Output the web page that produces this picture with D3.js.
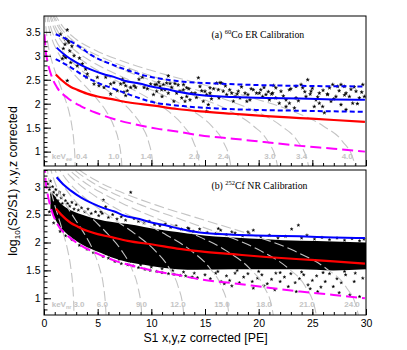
<!DOCTYPE html>
<html><head><meta charset="utf-8">
<script src="https://cdn.jsdelivr.net/npm/d3@7"></script>
<style>body{margin:0;background:#fff}svg{display:block}</style>
</head><body>
<script>
// ---------------- DATA ----------------
const xTickValues = [0, 5, 10, 15, 20, 25, 30];
const yTickValuesTop = [1, 1.5, 2, 2.5, 3, 3.5];
const yTickValuesBottom = [1, 1.5, 2, 2.5, 3];

// ER band (60Co): median and +-boundaries  [S1, log10(S2/S1)]
const erMedian = [[1.18,3.17],[1.86,3.03],[2.5,2.93],[3.5,2.8],[4.5,2.7],[5.5,2.62],[6.5,2.56],[7.5,2.48],[8.9,2.42],[10,2.36],[11.5,2.3],[12.5,2.25],[14.5,2.18],[17.6,2.14],[20.7,2.12],[23.85,2.11],[27,2.09],[29.9,2.08]];
const erUpper = [[1.09,3.45],[2.49,3.3],[3.42,3.17],[4.66,2.98],[6.21,2.83],[7.76,2.7],[9.7,2.57],[11.5,2.5],[13,2.46],[16.1,2.42],[19.8,2.39],[24.7,2.37],[29.9,2.36]];
const erLower = [[1.09,2.93],[2.49,2.76],[3.73,2.58],[4.97,2.44],[6.52,2.31],[8.08,2.18],[9.8,2.05],[12.98,1.95],[16.1,1.9],[19.8,1.87],[24.7,1.85],[29.9,1.83]];
// NR band (252Cf): median and lower boundary
const nrMedian = [[1.1,2.61],[1.6,2.5],[2.5,2.35],[3.1,2.29],[4.0,2.21],[5.0,2.15],[6.2,2.1],[7.8,2.03],[10.25,1.96],[12.4,1.89],[14.6,1.84],[17.6,1.79],[20.7,1.74],[23.85,1.7],[27,1.66],[29.9,1.62]];
const nrLower = [[0.05,3.45],[0.15,3.12],[0.31,2.9],[0.7,2.58],[1.24,2.33],[2.2,2.12],[3.42,1.95],[4.97,1.8],[6.5,1.68],[8.5,1.57],[10.5,1.48],[12.4,1.42],[14.5,1.34],[17.6,1.27],[20.5,1.2],[23.85,1.12],[27,1.06],[29.9,1.0]];

// energy contours: shared log10(S2/S1) profile, S1 points per contour
const contourValues = [3.91,3.60,3.35,3.12,2.88,2.67,2.40,2.13,1.85,1.53,1.21,0.81,0.40];
const contourS1Top = [
 [0.09,0.18,0.30,0.47,0.74,1.04,1.48,1.92,2.31,2.60,2.78,2.89,2.93],
 [0.22,0.44,0.74,1.18,1.85,2.59,3.70,4.81,5.77,6.51,6.96,7.22,7.33],
 [0.31,0.62,1.04,1.66,2.59,3.63,5.18,6.73,8.08,9.12,9.74,10.10,10.26],
 [0.44,0.89,1.48,2.37,3.70,5.18,7.40,9.62,11.54,13.02,13.91,14.43,14.65],
 [0.53,1.07,1.78,2.84,4.44,6.22,8.88,11.54,13.85,15.63,16.69,17.32,17.58],
 [0.67,1.33,2.22,3.55,5.55,7.77,11.10,14.43,17.32,19.54,20.87,21.65,21.98],
 [0.75,1.51,2.52,4.03,6.29,8.81,12.58,16.35,19.62,22.14,23.65,24.53,24.91],
 [0.89,1.78,2.96,4.74,7.40,10.36,14.80,19.24,23.09,26.05,27.82,28.86,29.30]
];
const contourS1Bottom = [
 [0.09,0.17,0.29,0.46,0.71,1.00,1.43,1.85,2.22,2.51,2.68,2.78,2.82],
 [0.18,0.35,0.59,0.94,1.48,2.07,2.95,3.84,4.60,5.19,5.55,5.75,5.84],
 [0.28,0.56,0.93,1.49,2.33,3.26,4.65,6.05,7.25,8.18,8.74,9.07,9.21],
 [0.40,0.80,1.33,2.13,3.33,4.66,6.65,8.65,10.37,11.70,12.50,12.97,13.17],
 [0.53,1.06,1.76,2.82,4.40,6.16,8.80,11.44,13.73,15.49,16.54,17.16,17.42],
 [0.65,1.31,2.18,3.49,5.45,7.63,10.90,14.17,17.00,19.18,20.49,21.26,21.58],
 [0.78,1.55,2.59,4.14,6.48,9.07,12.95,16.84,20.20,22.79,24.35,25.25,25.64],
 [0.90,1.79,2.99,4.78,7.48,10.47,14.95,19.44,23.32,26.31,28.11,29.15,29.60]
];
const keVeeLabels = ["0.4","1.0","1.4","2.0","2.4","3.0","3.4","4.0"];
const keVeeLabelS1 = [3.5,6.5,9.5,14.0,16.7,21.05,24.0,28.25];
const keVnrLabels = ["3.0","6.0","9.0","12.0","15.0","18.0","21.0","24.0"];
const keVnrLabelS1 = [3.26,5.43,9.08,12.48,16.58,20.5,24.5,28.7];

// 60Co events [S1, log10(S2/S1)]
const coEvents = [
 [2.17,3.54],[1.55,3.45],[2.02,3.35],[2.24,3.31],[2.33,3.28],[1.96,3.24],[1.86,3.0],[2.02,2.96],[1.71,2.94],[2.49,2.86],
 [3.1,2.79],[3.57,2.83],[3.88,2.72],[4.04,2.62],[3.97,2.55],[2.17,2.48],[4.97,2.55],[5.75,2.55],[4.66,2.41],[5.12,2.375],
 [5.59,2.34],[6.21,2.41],[6.52,2.44],[7.3,2.51],[7.45,2.44],[7.14,2.41],[7.61,2.375],[7.76,2.27],[7.45,2.24],[7.61,2.17],
 [7.92,2.69],[8.08,2.34],[8.39,2.375],[8.54,2.34],[8.85,2.51],[9.16,2.55],[9.32,2.34],[9.63,2.31],[9.94,2.41],[6.21,2.20],
 [6.83,2.27],[2.4,3.1],[2.6,3.2],[1.8,3.15],[2.8,3.0],[3.3,2.95],
 [11.58,2.58],[10.34,2.40],[10.81,2.36],[11.12,2.40],[11.43,2.43],[11.74,2.42],[12.2,2.42],[11.27,2.29],[10.5,2.26],[11.58,2.22],
 [12.36,2.22],[12.67,2.26],[13.3,2.15],[13.6,2.08],[13.76,2.22],[12.98,2.29],[14.38,2.54],[14.53,2.36],[15.0,2.26],[15.16,2.19],
 [15.47,2.33],[14.84,2.05],[15.16,1.84],[15.31,1.98],[16.09,2.43],[16.4,2.44],[16.55,2.43],[16.24,2.29],[16.7,2.26],[17.02,2.19],
 [17.49,2.22],[17.8,2.15],[18.1,2.26],[18.26,2.12],[18.73,2.22],[19.0,2.19],[19.19,2.08],[19.5,2.29],[19.8,2.22],[17.64,2.05],
 [15.47,2.22],[14.07,2.22],[13.3,2.33],[12.83,2.12],[13.14,2.05],[10.5,2.40],[10.96,2.29],
 [24.57,2.50],[23.95,2.40],[23.48,2.36],[24.1,2.33],[22.86,2.29],[22.08,2.26],[21.3,2.22],[20.68,2.19],[21.6,2.12],[22.55,2.08],
 [22.86,2.01],[23.48,2.12],[24.41,2.15],[24.88,2.26],[25.34,2.08],[25.65,2.01],[25.96,1.94],[26.12,1.81],[26.43,2.19],[26.9,2.40],
 [27.36,2.36],[27.67,2.40],[27.98,2.36],[28.14,2.22],[28.45,2.15],[28.76,2.01],[29.07,2.26],[29.38,2.12],[29.7,2.40],[29.85,2.15],
 [27.67,1.98],[28.14,1.875],[27.2,2.15],[26.74,2.05],[25.65,2.22],[25.18,1.94],[21.92,2.01],[21.0,2.08],[20.37,2.15],[20.2,2.29],
 [22.55,1.94],[23.33,1.91],[21.6,2.33],[20.06,2.22],
 [10.2,2.19],[10.7,2.45],[11.0,2.15],[11.9,2.34],[12.5,2.39],[13.5,2.31],[14.2,2.13],[14.7,2.27],[15.8,2.31],[16.3,2.12],
 [16.9,2.37],[17.3,2.29],[18.4,2.35],[18.9,2.05],[19.3,2.31],[20.5,2.34],[20.9,2.25],[21.4,2.38],[22.3,2.16],[23.0,2.31],
 [23.7,2.06],[24.3,2.25],[25.0,2.32],[25.5,2.14],[26.0,2.28],[26.6,2.33],[27.0,2.1],[27.5,2.27],[28.0,2.18],[28.6,2.3],
 [29.2,2.0],[29.6,2.24],[12.1,2.05],[13.0,2.4],[15.6,2.1],[18.0,2.2],[21.2,2.2],[24.8,2.2],[26.4,2.2],[28.9,2.35]
];

// 252Cf: dense core of the band [S1, lower, upper]
const cfCore = [[0.6,2.6,2.9],[0.93,2.46,2.85],[1.24,2.35,2.76],[1.55,2.27,2.7],[2.0,2.18,2.63],[2.8,2.06,2.55],[3.5,1.97,2.5],[4.35,1.89,2.45],[5.2,1.82,2.41],[6.2,1.74,2.37],[7.76,1.65,2.33],[9.32,1.6,2.28],[10.87,1.55,2.23],[12.42,1.52,2.19],[14.3,1.51,2.14],[17.6,1.52,2.09],[20.75,1.52,2.06],[23.85,1.52,2.03],[26.95,1.5,2.02],[30,1.52,2.0]];
// 252Cf: events outside the dense core [S1, log10(S2/S1)]
const cfEvents = [
 [0.35,3.05],[0.5,2.95],[0.6,3.1],[0.7,2.85],[0.8,3.0],[0.9,2.9],[1.0,2.8],[1.1,2.95],[1.2,2.85],[1.3,2.75],[1.45,2.9],[1.6,2.8],
 [1.7,2.7],[1.85,2.85],[2.0,2.75],[2.2,2.7],[2.4,2.65],[2.6,2.72],[2.8,2.6],[3.0,2.68],[3.2,2.58],[3.5,2.62],[3.8,2.55],[4.1,2.6],
 [4.4,2.52],[4.8,2.55],[5.1,2.48],[5.3,2.55],[5.53,2.76],[5.75,2.64],[6.0,2.45],[6.4,2.5],[6.8,2.42],[7.2,2.46],[7.6,2.4],[8.08,2.90],
 [8.39,2.43],[8.8,2.38],[9.3,2.35],[9.8,2.38],[10.3,2.32],[10.8,2.3],[11.3,2.33],[11.8,2.27],[12.3,2.3],[12.8,2.24],[13.4,2.26],[13.9,2.2],
 [14.5,2.24],[15.2,2.18],[16.0,2.16],[16.24,2.25],[16.46,2.22],[17.0,2.14],[17.8,2.17],[18.5,2.12],[19.1,2.16],[19.5,2.22],[20.2,2.1],[21.0,2.13],
 [21.8,2.08],[22.5,2.11],[23.07,2.24],[23.7,2.31],[24.0,2.08],[24.5,2.13],[25.2,2.06],[25.9,2.09],[26.6,2.05],[27.3,2.08],[28.0,2.04],[28.7,2.07],
 [29.4,2.03],[29.8,2.06],[5.43,2.52],[13.5,2.25],[17.5,2.19],[19.0,2.19],
 [0.5,2.55],[0.9,2.35],[1.5,2.2],[2.0,2.12],[2.6,2.05],[3.3,1.95],[4.0,1.88],[4.6,1.82],
 [5.5,1.75],[6.0,1.72],[6.6,1.66],[7.2,1.62],[7.8,1.6],[8.3,1.58],[8.8,1.55],[9.4,1.52],[9.9,1.5],[10.5,1.48],[11.0,1.46],[11.6,1.44],
 [12.1,1.43],[12.7,1.41],[13.2,1.4],[13.8,1.38],[14.3,1.37],[5.8,1.8],[7.0,1.7],[8.0,1.66],[9.0,1.6],[10.0,1.56],[11.0,1.53],[12.0,1.5],
 [13.0,1.47],[14.0,1.45],
 [15.0,1.42],[15.5,1.35],[16.0,1.45],[16.5,1.3],[17.0,1.4],[17.3,1.32],[17.8,1.45],[18.2,1.28],[18.6,1.38],[19.0,1.44],[19.4,1.3],[19.9,1.36],
 [20.3,1.42],[20.8,1.26],[21.2,1.34],[21.6,1.45],[22.0,1.3],[22.4,1.38],[22.76,1.21],[23.0,1.44],[23.4,1.28],[23.8,1.35],[24.2,1.42],[24.6,1.24],
 [25.0,1.32],[25.4,1.4],[25.8,1.2],[26.2,1.3],[26.6,1.44],[26.95,1.21],[27.3,1.35],[27.7,1.28],[28.1,1.42],[28.5,1.06],[28.9,1.3],[29.4,1.03],
 [29.7,1.36],[16.2,1.48],[18.0,1.5],[20.0,1.48],[22.0,1.46],[24.0,1.47],[26.0,1.46],[28.0,1.48],[29.0,1.45],[17.5,1.22],[19.5,1.18],[21.5,1.15],
 [23.5,1.12],[25.5,1.12],[27.5,1.1],[16.8,1.26],[20.5,1.22],[24.8,1.17]
];

// ---------------- DRAWING ----------------
const W = 407, H = 350;
const svg = d3.select("body").append("svg").attr("width", W).attr("height", H);
svg.append("rect").attr("width", W).attr("height", H).attr("fill", "#fff");

const x = d3.scaleLinear().domain([0, 30]).range([44, 366]);
const yTop = d3.scaleLinear().domain([0.7, 3.83]).range([166, 16]);
const yBot = d3.scaleLinear().domain([0.7, 3.3]).range([315, 170]);

const SANS = "Liberation Sans, Arial, Helvetica, sans-serif";
const SERIF = "Liberation Serif, Times New Roman, serif";

function panel(id, y, opts) {
  const g = svg.append("g");
  const [y0, y1] = y.range();
  g.append("clipPath").attr("id", id).append("rect")
    .attr("x", x(0)).attr("y", y1).attr("width", x(30) - x(0)).attr("height", y0 - y1);
  const plot = g.append("g").attr("clip-path", `url(#${id})`);
  const line = d3.line().x(d => x(d[0])).y(d => y(d[1])).curve(d3.curveMonotoneX);

  if (opts.core) {
    plot.append("path").datum(opts.core)
      .attr("d", d3.area().x(d => x(d[0])).y0(d => y(d[1])).y1(d => y(d[2])).curve(d3.curveMonotoneX))
      .attr("fill", "#000");
  }
  const star = d3.symbol(d3.symbolStar, opts.markerSize)();
  const drawEvents = () => plot.append("g").selectAll("path").data(opts.events).join("path")
      .attr("d", star).attr("transform", d => `translate(${x(d[0])},${y(d[1])})`)
      .attr("fill", "#000").attr("stroke", "#000").attr("stroke-width", 0.3);
  if (opts.core) drawEvents();

  // energy contours
  plot.append("g").selectAll("path").data(opts.contours).join("path")
    .attr("d", s => line(s.map((v, i) => [v, contourValues[i]])))
    .attr("fill", "none").attr("stroke", "#c4c4c4").attr("stroke-width", 1.1)
    .attr("stroke-dasharray", "10,4");

  if (!opts.core) drawEvents();

  const curve = (data, color, w, dash) => plot.append("path").datum(data).attr("d", line)
    .attr("fill", "none").attr("stroke", color).attr("stroke-width", w)
    .attr("stroke-dasharray", dash || null);
  curve(nrLower, "#ff00ff", 2, "11,5");
  if (opts.erBand) { curve(erUpper, "#0000ff", 2, "5,3"); curve(erLower, "#0000ff", 2, "5,3"); }
  curve(nrMedian, "#ff0000", 2.2);
  curve(erMedian, "#0000ff", 2);

  // energy labels
  const lab = g.append("g").attr("font-family", SANS).attr("font-weight", "bold")
    .attr("font-size", 8).attr("fill", "#c4c4c4");
  const ky = y(0.84);
  const kt = lab.append("text").attr("x", x(0.72)).attr("y", ky);
  kt.append("tspan").text("keV");
  kt.append("tspan").attr("font-size", 5.5).attr("dy", 2).text(opts.unit);
  lab.selectAll("text.e").data(opts.labels).join("text").attr("class", "e")
    .attr("x", (d, i) => x(opts.labelS1[i])).attr("y", ky).attr("text-anchor", "middle").text(d => d);

  // frame
  g.append("rect").attr("x", x(0)).attr("y", y1).attr("width", x(30) - x(0)).attr("height", y0 - y1)
    .attr("fill", "none").attr("stroke", "#000").attr("stroke-width", 1);

  // axes (ticks inside)
  const yMinor = d3.range(8, 34).map(d => d / 10).filter(v => v >= y.domain()[0] && v <= y.domain()[1]);
  const la = g.append("g").attr("transform", `translate(${x(0)},0)`)
    .call(d3.axisLeft(y).tickValues(opts.yTicks).tickSize(-7).tickPadding(3.5).tickFormat(d => String(d)));
  la.select(".domain").remove();
  la.selectAll("text").attr("font-family", SANS).attr("font-size", 10.5).attr("fill", "#000");
  const lm = g.append("g").attr("transform", `translate(${x(0)},0)`)
    .call(d3.axisLeft(y).tickValues(yMinor).tickSize(-3.5).tickFormat(""));
  lm.select(".domain").remove();

  const ba = g.append("g").attr("transform", `translate(0,${y0})`)
    .call(d3.axisBottom(x).tickValues(xTickValues).tickSize(-6).tickPadding(5)
      .tickFormat(opts.xLabels ? (d => String(d)) : ""));
  ba.select(".domain").remove();
  ba.selectAll("text").attr("font-family", SANS).attr("font-size", 10.5).attr("fill", "#000");
  const bm = g.append("g").attr("transform", `translate(0,${y0})`)
    .call(d3.axisBottom(x).tickValues(d3.range(1, 30)).tickSize(-3).tickFormat(""));
  bm.select(".domain").remove();

  // title
  const t = g.append("text").attr("x", x(15.6)).attr("y", y(opts.titleV))
    .attr("font-family", SERIF).attr("font-size", 9.8).attr("fill", "#000");
  t.append("tspan").text(opts.title[0]);
  t.append("tspan").attr("font-size", 6.5).attr("dy", -4).text(opts.title[1]);
  t.append("tspan").attr("dy", 4).text(opts.title[2]);
}

panel("clipTop", yTop, {
  events: coEvents, markerSize: 4, contours: contourS1Top, erBand: true,
  labels: keVeeLabels, labelS1: keVeeLabelS1, unit: "ee",
  yTicks: yTickValuesTop, xLabels: false,
  title: ["(a) ", "60", "Co ER Calibration"], titleV: 3.375
});
panel("clipBot", yBot, {
  events: cfEvents, core: cfCore, markerSize: 3, contours: contourS1Bottom, erBand: false,
  labels: keVnrLabels, labelS1: keVnrLabelS1, unit: "nr",
  yTicks: yTickValuesBottom, xLabels: true,
  title: ["(b) ", "252", "Cf NR Calibration"], titleV: 2.96
});

// axis titles
svg.append("text").attr("x", 205.5).attr("y", 342).attr("text-anchor", "middle")
  .attr("font-family", SANS).attr("font-size", 12.3).text("S1 x,y,z corrected [PE]");
const yt = svg.append("text").attr("transform", "translate(17,181) rotate(-90)").attr("text-anchor", "middle")
  .attr("font-family", SANS).attr("font-size", 12.3);
yt.append("tspan").text("log");
yt.append("tspan").attr("font-size", 8).attr("dy", 3).text("10");
yt.append("tspan").attr("dy", -3).text("(S2/S1) x,y,z corrected");
</script>
</body></html>
